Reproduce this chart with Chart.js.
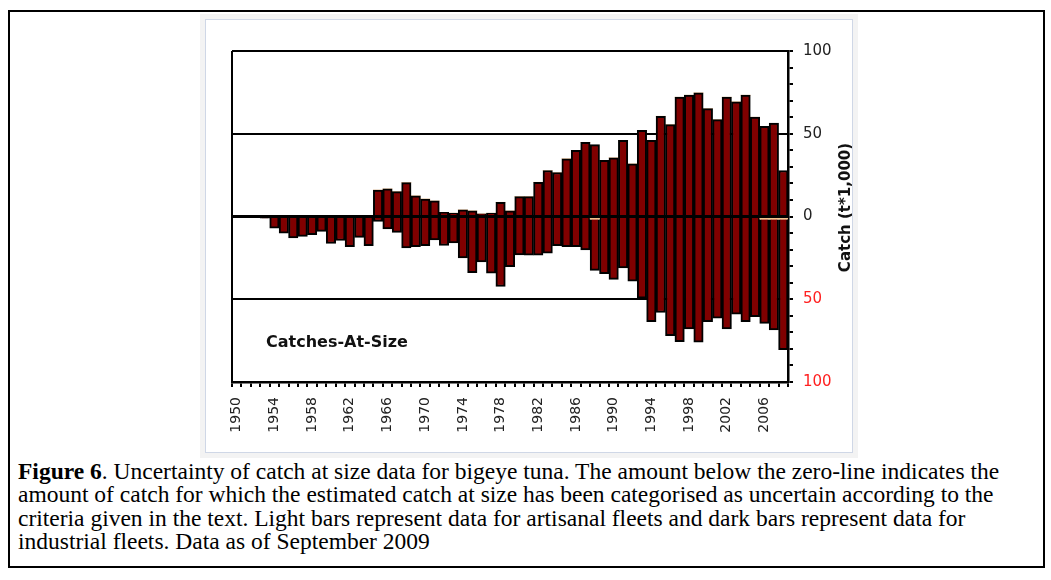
<!DOCTYPE html>
<html>
<head>
<meta charset="utf-8">
<script src="https://cdn.jsdelivr.net/npm/chart.js@4"></script>
<style>
  html, body { margin: 0; padding: 0; background: #ffffff; }
  body { width: 1051px; height: 580px; position: relative; overflow: hidden; }
  #frame { position: absolute; left: 8px; top: 10px; width: 1033px; height: 554px; border: 2px solid #000; background: #ffffff; }
  #panel { position: absolute; left: 205px; top: 19px; width: 646px; height: 432px; border: 1px solid #cfd7e6; background: #fff; box-shadow: 0 0 0 5px #f3f3f3; }
  #chartBox { position: absolute; left: 206px; top: 20px; width: 646px; height: 432px; }
  #caption { position: absolute; left: 18px; top: 460px; font-family: "Liberation Serif", "Times New Roman", serif; font-size: 23.5px; line-height: 23.4px; color: #000; white-space: nowrap; }
</style>
</head>
<body>
<div id="frame"></div>
<div id="panel"></div>
<div id="chartBox"><canvas id="c" width="646" height="432"></canvas></div>
<div id="caption"><b>Figure 6</b>. Uncertainty of catch at size data for bigeye tuna. The amount below the zero-line indicates the<br>amount of catch for which the estimated catch at size has been categorised as uncertain according to the<br>criteria given in the text. Light bars represent data for artisanal fleets and dark bars represent data for<br>industrial fleets. Data as of September 2009</div>
<script>
// ---- data ----
const years = [];
for (let y = 1950; y <= 2008; y++) years.push(String(y));

const yearLabelsShown = ["1950","1954","1958","1962","1966","1970","1974","1978","1982","1986","1990","1994","1998","2002","2006"];

// catch with size data (above zero line), t*1,000
const catchCertain = [
  0, 0, 0, 0, 0, 0, 0, 0, 0, 0, 0, 0, 0, 0, 0,
  16, 16.7, 15, 20.5, 12.5, 10.6, 9.4, 2.5, 2, 4,
  3.4, 1.6, 2, 8.6, 3.4, 12, 12, 20.7, 27.8, 26.6,
  34.9, 40, 44.8, 43.4, 33.9, 35.5, 46, 31.8, 52, 46,
  60.6, 55.5, 72.1, 73.3, 74.7, 65.2, 58.5, 72.1, 69.3, 73.3,
  60, 54.5, 56.5, 27.8
];

// uncertain catch, artisanal fleets (light bars, below zero)
const uncertainArtisanal = [
  0, 0, 0, 0, 0, 0, 0, 0, 0, 0, 0, 0, 0, 0, 0,
  0, 0, 0, 0, 0, 0, 0, 0, 0, 0,
  0, 0, 0, 0, 0, 0, 0, 0, 0, 0,
  0, 0, 0, -1.6, 0, 0, 0, 0, 0, 0,
  0, 0, 0, 0, 0, 0, 0, 0, 0, 0,
  0, -1.6, -1.6, -1.6
];

// uncertain catch, industrial fleets (dark bars, below zero)
const uncertainIndustrial = [
  0, 0, 0, -1, -7, -10, -13, -12, -11, -9, -16.3, -14.5, -18.3, -12.6, -17.7,
  -3, -7.5, -9.6, -19, -18.3, -17.6, -14.1, -17.5, -16, -25,
  -34, -27.4, -34.2, -42.3, -30.3, -23.2, -23.3, -23.3, -22.2, -17.6,
  -18.2, -18.2, -20.2, -31, -34.6, -38, -31, -39, -49.3, -63.5,
  -58, -72, -75.6, -68, -76, -63.5, -61.5, -68, -59, -63.5,
  -60.5, -63, -67, -78.8
];

const yTickLabels = { "100": "100", "50": "50", "0": "0", "-50": "50", "-100": "100" };
const annotationText = "Catches-At-Size";
const yTitleText = "Catch (t*1,000)";

// ---- plugins ----
const overlayPlugin = {
  id: 'overlay',
  afterDatasetsDraw(chart) {
    const { ctx, chartArea, scales } = chart;
    const y0 = scales.y.getPixelForValue(0);
    ctx.save();
    ctx.strokeStyle = '#000';
    ctx.lineWidth = 3;
    ctx.beginPath();
    ctx.moveTo(chartArea.left, y0);
    ctx.lineTo(chartArea.right, y0);
    ctx.stroke();
    ctx.restore();
  },
  afterDraw(chart) {
    const { ctx, chartArea } = chart;
    ctx.save();
    ctx.font = 'bold 16px "DejaVu Sans", Verdana, sans-serif';
    ctx.fillStyle = '#111';
    ctx.textAlign = 'left';
    ctx.textBaseline = 'middle';
    ctx.fillText(annotationText, chartArea.left + 34, chartArea.top + 291.5);
    ctx.translate(chartArea.right + 58, (chartArea.top + chartArea.bottom) / 2 - 9);
    ctx.rotate(-Math.PI / 2);
    ctx.font = 'bold 15px "DejaVu Sans", Verdana, sans-serif';
    ctx.textAlign = 'center';
    ctx.textBaseline = 'middle';
    ctx.fillText(yTitleText, 0, 0);
    ctx.restore();
  }
};

const barColor = '#800000';

new Chart(document.getElementById('c'), {
  type: 'bar',
  data: {
    labels: years,
    datasets: [
      { label: 'Catch at size', data: catchCertain, backgroundColor: barColor, borderColor: '#000', borderWidth: 2, barPercentage: 1, categoryPercentage: 1 },
      { label: 'Uncertain (artisanal)', data: uncertainArtisanal, backgroundColor: '#f5c38f', borderWidth: 0, barPercentage: 1, categoryPercentage: 1 },
      { label: 'Uncertain (industrial)', data: uncertainIndustrial, backgroundColor: barColor, borderColor: '#000', borderWidth: 2, barPercentage: 1, categoryPercentage: 1 }
    ]
  },
  options: {
    responsive: false,
    devicePixelRatio: 1,
    animation: false,
    layout: { padding: { left: 26, top: 31, right: 0, bottom: 0 } },
    plugins: { legend: { display: false }, tooltip: { enabled: false } },
    scales: {
      x: {
        stacked: true,
        offset: true,
        afterFit(s) { s.height = 70; },
        grid: {
          offset: true,
          drawOnChartArea: true,
          color: (c) => c.index === 0 ? '#000' : 'rgba(0,0,0,0)',
          lineWidth: 2,
          tickColor: '#000',
          tickLength: 5,
          tickWidth: 2
        },
        border: { display: true, color: '#000', width: 2.5 },
        ticks: {
          autoSkip: false,
          minRotation: 90,
          maxRotation: 90,
          padding: 10,
          color: '#222',
          font: { family: '"DejaVu Sans", Verdana, sans-serif', size: 14 },
          callback: function (v, i) {
            const lab = this.getLabelForValue(v);
            return yearLabelsShown.includes(lab) ? lab : '';
          }
        }
      },
      y: {
        position: 'right',
        stacked: true,
        min: -100,
        max: 100,
        afterFit(s) { s.width = 64; },
        grid: {
          color: (c) => {
            const v = c.tick && Math.round(c.tick.value);
            return (v === 50 || v === -50 || v === 100) ? '#000' : 'rgba(0,0,0,0)';
          },
          lineWidth: 2,
          tickColor: '#000',
          tickLength: 5,
          tickWidth: 2
        },
        border: { display: true, color: '#000', width: 2.5 },
        ticks: {
          autoSkip: false,
          stepSize: 10,
          padding: 10,
          font: { family: '"DejaVu Sans", Verdana, sans-serif', size: 15 },
          color: (c) => c.tick && c.tick.value < 0 ? '#ff2020' : '#222',
          callback: (v) => {
            const k = String(Math.round(v));
            return yTickLabels[k] !== undefined ? yTickLabels[k] : '';
          }
        }
      }
    }
  },
  plugins: [overlayPlugin]
});
</script>
</body>
</html>
